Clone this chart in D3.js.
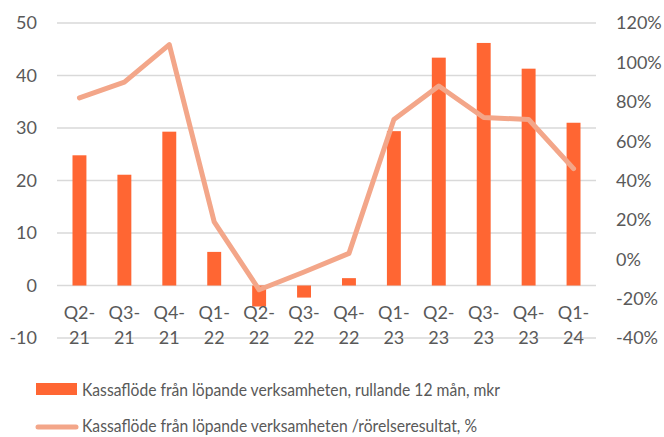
<!DOCTYPE html>
<html>
<head>
<meta charset="utf-8">
<script src="https://cdn.jsdelivr.net/npm/d3@7"></script>
<style>
  body { margin: 0; background: #fff; }
  text { font-family: Lato, "Open Sans", sans-serif; fill: #595959; }
</style>
</head>
<body>
<div id="chart"></div>
<script>
var quarters = ["Q2-21", "Q3-21", "Q4-21", "Q1-22", "Q2-22", "Q3-22", "Q4-22", "Q1-23", "Q2-23", "Q3-23", "Q4-23", "Q1-24"];
var cashflow = [24.8, 21.1, 29.3, 6.4, -4.0, -2.3, 1.4, 29.4, 43.4, 46.2, 41.3, 31.0];
var ratio = [82, 90, 109, 19, -15.5, -6.5, 3, 71, 88, 72, 71, 46];
var leftTicks = [-10, 0, 10, 20, 30, 40, 50];
var rightTicks = [-40, -20, 0, 20, 40, 60, 80, 100, 120];
var legendLabels = [
  "Kassaflöde från löpande verksamheten, rullande 12 mån, mkr",
  "Kassaflöde från löpande verksamheten /rörelseresultat, %"
];

var width = 664, height = 437;
var margin = { top: 23, right: 68, bottom: 99, left: 57 };
var barColor = "#FF6633", lineColor = "#F3A689";

var svg = d3.select("#chart").append("svg")
  .attr("width", width)
  .attr("height", height);

var x = d3.scaleBand()
  .domain(quarters)
  .range([margin.left, width - margin.right])
  .paddingInner(0.69)
  .paddingOuter(0.345);

var y = d3.scaleLinear()
  .domain([-10, 50])
  .range([height - margin.bottom, margin.top]);

var y2 = d3.scaleLinear()
  .domain([-40, 120])
  .range([height - margin.bottom, margin.top]);

// gridlines
svg.append("g")
  .selectAll("line")
  .data(leftTicks)
  .join("line")
  .attr("x1", margin.left)
  .attr("x2", width - margin.right)
  .attr("y1", (d) => y(d))
  .attr("y2", (d) => y(d))
  .attr("stroke", "#D9D9D9")
  .attr("stroke-width", 1.5);

// left axis labels
svg.append("g")
  .selectAll("text")
  .data(leftTicks)
  .join("text")
  .attr("x", 37)
  .attr("y", (d) => y(d))
  .attr("dy", "0.36em")
  .attr("text-anchor", "end")
  .style("font-size", "18px")
  .text((d) => d);

// right axis labels
svg.append("g")
  .selectAll("text")
  .data(rightTicks)
  .join("text")
  .attr("x", 616)
  .attr("y", (d) => y2(d))
  .attr("dy", "0.36em")
  .style("font-size", "18px")
  .text((d) => d + "%");

// bars
svg.append("g")
  .attr("fill", barColor)
  .selectAll("rect")
  .data(cashflow)
  .join("rect")
  .attr("x", (d, i) => x(quarters[i]))
  .attr("width", x.bandwidth())
  .attr("y", (d) => y(Math.max(0, d)))
  .attr("height", (d) => Math.abs(y(d) - y(0)));

// category labels (two lines)
var cat = svg.append("g")
  .selectAll("text")
  .data(quarters)
  .join("text")
  .attr("text-anchor", "middle")
  .style("font-size", "18px");
cat.append("tspan")
  .attr("x", (d) => x(d) + x.bandwidth() / 2)
  .attr("y", 319)
  .text((d) => d.split("-")[0] + "-");
cat.append("tspan")
  .attr("x", (d) => x(d) + x.bandwidth() / 2)
  .attr("y", 344)
  .text((d) => d.split("-")[1]);

// ratio line
var line = d3.line()
  .x((d, i) => x(quarters[i]) + x.bandwidth() / 2)
  .y((d) => y2(d));

svg.append("path")
  .datum(ratio)
  .attr("fill", "none")
  .attr("stroke", lineColor)
  .attr("stroke-width", 5)
  .attr("stroke-linejoin", "round")
  .attr("stroke-linecap", "round")
  .attr("d", line);

// legend
svg.append("rect")
  .attr("x", 36)
  .attr("y", 383)
  .attr("width", 41)
  .attr("height", 12)
  .attr("fill", barColor);
svg.append("text")
  .attr("x", 82)
  .attr("y", 396)
  .attr("textLength", 418)
  .attr("lengthAdjust", "spacingAndGlyphs")
  .style("font-size", "18px")
  .text(legendLabels[0]);

svg.append("line")
  .attr("x1", 38)
  .attr("x2", 76)
  .attr("y1", 427)
  .attr("y2", 427)
  .attr("stroke", lineColor)
  .attr("stroke-width", 5)
  .attr("stroke-linecap", "round");
svg.append("text")
  .attr("x", 82)
  .attr("y", 432)
  .attr("textLength", 395)
  .attr("lengthAdjust", "spacingAndGlyphs")
  .style("font-size", "18px")
  .text(legendLabels[1]);
</script>
</body>
</html>
